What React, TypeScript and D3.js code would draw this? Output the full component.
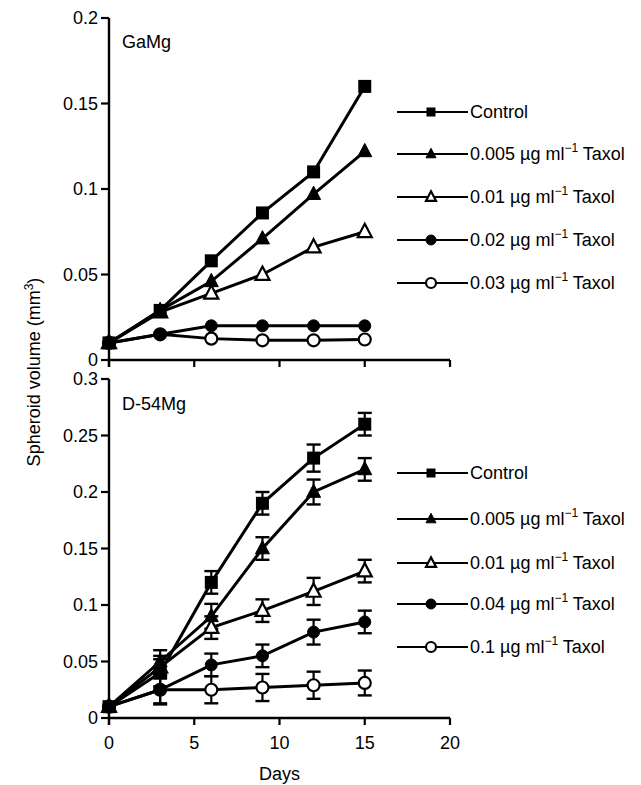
import React, { useEffect, useRef } from "react";
import * as d3 from "d3";

const days = [0, 3, 6, 9, 12, 15];

// GaMg panel
const topLabels = [
  "Control",
  "0.005 µg ml|-1| Taxol",
  "0.01 µg ml|-1| Taxol",
  "0.02 µg ml|-1| Taxol",
  "0.03 µg ml|-1| Taxol",
];
const topControl = [0.01, 0.029, 0.058, 0.086, 0.11, 0.16];
const top005 = [0.01, 0.029, 0.046, 0.071, 0.097, 0.122];
const top01 = [0.01, 0.028, 0.039, 0.05, 0.066, 0.075];
const top02 = [0.01, 0.015, 0.02, 0.02, 0.02, 0.02];
const top03 = [0.01, 0.015, 0.0125, 0.0115, 0.0115, 0.012];

// D-54Mg panel
const botLabels = [
  "Control",
  "0.005 µg ml|-1| Taxol",
  "0.01 µg ml|-1| Taxol",
  "0.04 µg ml|-1| Taxol",
  "0.1 µg ml|-1| Taxol",
];
const botControl = [0.01, 0.04, 0.12, 0.19, 0.23, 0.26];
const botControlErr = [0, 0.012, 0.01, 0.01, 0.012, 0.01];
const bot005 = [0.01, 0.05, 0.09, 0.15, 0.2, 0.22];
const bot005Err = [0, 0.01, 0.011, 0.01, 0.011, 0.01];
const bot01 = [0.01, 0.045, 0.08, 0.095, 0.112, 0.13];
const bot01Err = [0, 0.01, 0.01, 0.01, 0.012, 0.01];
const bot04 = [0.01, 0.025, 0.047, 0.055, 0.076, 0.085];
const bot04Err = [0, 0.013, 0.01, 0.01, 0.011, 0.01];
const bot1 = [0.01, 0.025, 0.025, 0.027, 0.029, 0.031];
const bot1Err = [0, 0.012, 0.012, 0.012, 0.012, 0.011];

const markers = ["square", "triangle", "triangleOpen", "circle", "circleOpen"];

const FONT = "'Liberation Sans', Arial, sans-serif";
const FS = 18;

const drawMarker = (g, type, x, y, s) => {
  const open = type.endsWith("Open");
  const fill = open ? "#fff" : "#000";
  if (type === "square") {
    g.append("rect")
      .attr("x", x - s / 2)
      .attr("y", y - s / 2)
      .attr("width", s)
      .attr("height", s)
      .attr("fill", "#000");
  } else if (type.startsWith("triangle")) {
    const h = s * 0.95;
    g.append("path")
      .attr(
        "d",
        `M${x},${y - h * 0.6}L${x + s / 2},${y + h * 0.4}L${x - s / 2},${y + h * 0.4}Z`
      )
      .attr("fill", fill)
      .attr("stroke", "#000")
      .attr("stroke-width", open ? 2.2 : 1);
  } else {
    g.append("circle")
      .attr("cx", x)
      .attr("cy", y)
      .attr("r", s / 2)
      .attr("fill", fill)
      .attr("stroke", "#000")
      .attr("stroke-width", open ? 2.2 : 1);
  }
};

const addLabel = (sel, label) => {
  const parts = label.split("|");
  sel.append("tspan").text(parts[0]);
  if (parts.length > 1) {
    sel.append("tspan").attr("dy", -8).attr("font-size", 12).text(parts[1].replace("-", "\u2212"));
    sel.append("tspan").attr("dy", 8).text(" " + parts[2].trim());
  }
};

const App = () => {
  const ref = useRef(null);

  useEffect(() => {
    const svg = d3.select(ref.current);
    svg.selectAll("*").remove();

    const x = d3.scaleLinear().domain([0, 20]).range([109, 450]);

    const panels = [
      {
        name: "GaMg",
        y: d3.scaleLinear().domain([0, 0.2]).range([360, 18]),
        ticks: [0, 0.05, 0.1, 0.15, 0.2],
        series: [topControl, top005, top01, top02, top03],
        errs: null,
        labels: topLabels,
        legendY: [112, 154, 197, 240, 283],
        xLabels: false,
        nameY: 48,
      },
      {
        name: "D-54Mg",
        y: d3.scaleLinear().domain([0, 0.3]).range([718, 379]),
        ticks: [0, 0.05, 0.1, 0.15, 0.2, 0.25, 0.3],
        series: [botControl, bot005, bot01, bot04, bot1],
        errs: [botControlErr, bot005Err, bot01Err, bot04Err, bot1Err],
        labels: botLabels,
        legendY: [473, 519, 563, 604, 647],
        xLabels: true,
        nameY: 410,
      },
    ];

    panels.forEach((p) => {
      const g = svg.append("g");
      const y = p.y;
      const y0 = y(0);

      // y axis
      g.append("line")
        .attr("x1", x(0)).attr("x2", x(0))
        .attr("y1", y.range()[1]).attr("y2", y0 + 7)
        .attr("stroke", "#000").attr("stroke-width", 2.4);
      p.ticks.forEach((t) => {
        g.append("line")
          .attr("x1", x(0) - 8).attr("x2", x(0))
          .attr("y1", y(t)).attr("y2", y(t))
          .attr("stroke", "#000").attr("stroke-width", 2.2);
        g.append("text")
          .attr("x", x(0) - 11)
          .attr("y", y(t) + 6)
          .attr("text-anchor", "end")
          .attr("font-family", FONT)
          .attr("font-size", FS)
          .text(t === 0 ? "0" : String(t));
      });

      // x axis
      g.append("line")
        .attr("x1", x(0) - 1).attr("x2", x(20))
        .attr("y1", y0).attr("y2", y0)
        .attr("stroke", "#000").attr("stroke-width", 2.4);
      [0, 5, 10, 15, 20].forEach((d) => {
        g.append("line")
          .attr("x1", x(d)).attr("x2", x(d))
          .attr("y1", y0).attr("y2", y0 + 7)
          .attr("stroke", "#000").attr("stroke-width", 2.2);
        if (p.xLabels) {
          g.append("text")
            .attr("x", x(d))
            .attr("y", y0 + 31)
            .attr("text-anchor", "middle")
            .attr("font-family", FONT)
            .attr("font-size", FS)
            .text(d);
        }
      });

      g.append("text")
        .attr("x", x(0) + 13)
        .attr("y", p.nameY)
        .attr("font-family", FONT)
        .attr("font-size", FS)
        .text(p.name);

      const line = d3.line().x((_, i) => x(days[i])).y((v) => y(v));

      p.series.forEach((vals, k) => {
        g.append("path")
          .datum(vals)
          .attr("d", line)
          .attr("fill", "none")
          .attr("stroke", "#000")
          .attr("stroke-width", 3);
        if (p.errs) {
          vals.forEach((v, i) => {
            const e = p.errs[k][i];
            if (!e) return;
            const cx = x(days[i]);
            g.append("line")
              .attr("x1", cx).attr("x2", cx)
              .attr("y1", y(v - e)).attr("y2", y(v + e))
              .attr("stroke", "#000").attr("stroke-width", 2.2);
            [v - e, v + e].forEach((ev) => {
              g.append("line")
                .attr("x1", cx - 7).attr("x2", cx + 7)
                .attr("y1", y(ev)).attr("y2", y(ev))
                .attr("stroke", "#000").attr("stroke-width", 2.4);
            });
          });
        }
      });

      // markers on top, drawn from last series to first
      for (let k = p.series.length - 1; k >= 0; k--) {
        p.series[k].forEach((v, i) => {
          const s = markers[k] === "square" ? 13 : markers[k].startsWith("triangle") ? 14 : 12;
          drawMarker(g, markers[k], x(days[i]), y(v), s);
        });
      }

      // legend
      p.labels.forEach((lab, k) => {
        const ly = p.legendY[k];
        g.append("line")
          .attr("x1", 397).attr("x2", 468)
          .attr("y1", ly).attr("y2", ly)
          .attr("stroke", "#000").attr("stroke-width", 2);
        drawMarker(g, markers[k], 431, ly, markers[k] === "square" ? 9 : 10);
        const t = g.append("text")
          .attr("x", 470)
          .attr("y", ly + 6)
          .attr("font-family", FONT)
          .attr("font-size", FS);
        addLabel(t, lab);
      });
    });

    // shared labels
    const yl = svg.append("text")
      .attr("transform", "translate(40,372) rotate(-90)")
      .attr("text-anchor", "middle")
      .attr("font-family", FONT)
      .attr("font-size", FS);
    yl.append("tspan").text("Spheroid volume (mm");
    yl.append("tspan").attr("dy", -7).attr("font-size", 12).text("3");
    yl.append("tspan").attr("dy", 7).text(")");

    svg.append("text")
      .attr("x", x(10))
      .attr("y", 780)
      .attr("text-anchor", "middle")
      .attr("font-family", FONT)
      .attr("font-size", FS)
      .text("Days");
  }, []);

  return (
    <svg
      ref={ref}
      width={641}
      height={785}
      style={{ position: "absolute", left: 0, top: 0, background: "#fff" }}
    />
  );
};

export default App;
